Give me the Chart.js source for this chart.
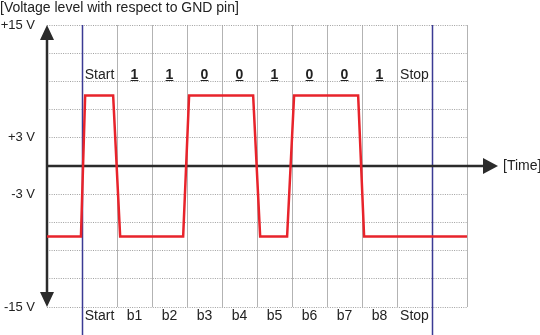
<!DOCTYPE html>
<html>
<head>
<meta charset="utf-8">
<script src="https://cdn.jsdelivr.net/npm/chart.js@4.4.1/dist/chart.umd.min.js"></script>
<style>
  html, body { margin: 0; padding: 0; background: #fff; }
  canvas { display: block; }
</style>
</head>
<body>
<canvas id="signalChart" width="540" height="335"></canvas>
<script>
// waveform: time in bit periods, level in volts
const signalTime  = [0, 0.97, 1.09, 1.89, 2.09, 3.89, 4.06, 5.89, 6.09, 6.86, 7.06, 8.89, 9.06, 12];
const signalVolts = [-7.5, -7.5, 7.5, 7.5, -7.5, -7.5, 7.5, 7.5, -7.5, -7.5, 7.5, 7.5, -7.5, -7.5];

// one label per bit column along the bottom (first and last column empty)
const slotLabels = ['', 'Start', 'b1', 'b2', 'b3', 'b4', 'b5', 'b6', 'b7', 'b8', 'Stop', ''];
// values written above the waveform, starting in column 1
const bitValues = ['Start', '1', '1', '0', '0', '1', '0', '0', '1', 'Stop'];
const bitLabelLevel = 9.25;

const yTickValues = [15, 3, -3, -15];
const yTickText = ['+15 V', '+3 V', '-3 V', '-15 V'];

// start of the start bit and end of the stop bit
const frameEdges = [1, 11];

const FONT = 'Liberation Sans, Arial, sans-serif';
const TEXT = '#222';
const AXIS = '#2b2b2b';

const axesPlugin = {
  id: 'axesArrows',
  beforeDatasetsDraw(chart) {
    const { ctx, chartArea, scales: { x, y } } = chart;
    const x0 = x.getPixelForValue(0);
    const y0 = y.getPixelForValue(0);
    ctx.save();

    // blue frame markers run down past the plot
    ctx.strokeStyle = '#3b3a94';
    ctx.lineWidth = 1.5;
    frameEdges.forEach(v => {
      const px = Math.round(x.getPixelForValue(v)) + 0.5;
      ctx.beginPath();
      ctx.moveTo(px, chartArea.top);
      ctx.lineTo(px, chart.height);
      ctx.stroke();
    });

    // axes
    ctx.strokeStyle = AXIS;
    ctx.fillStyle = AXIS;
    ctx.lineWidth = 2.5;
    const tipX = chartArea.right + 31;
    ctx.beginPath();
    ctx.moveTo(x0, chartArea.top + 10);
    ctx.lineTo(x0, chartArea.bottom - 10);
    ctx.moveTo(x0, y0);
    ctx.lineTo(tipX - 10, y0);
    ctx.stroke();

    // arrow heads
    ctx.beginPath();
    ctx.moveTo(x0, chartArea.top);
    ctx.lineTo(x0 - 7, chartArea.top + 15);
    ctx.lineTo(x0 + 7, chartArea.top + 15);
    ctx.closePath();
    ctx.moveTo(x0, chartArea.bottom);
    ctx.lineTo(x0 - 7, chartArea.bottom - 15);
    ctx.lineTo(x0 + 7, chartArea.bottom - 15);
    ctx.closePath();
    ctx.moveTo(tipX, y0);
    ctx.lineTo(tipX - 15, y0 - 8);
    ctx.lineTo(tipX - 15, y0 + 8);
    ctx.closePath();
    ctx.fill();

    ctx.font = '14px ' + FONT;
    ctx.fillStyle = TEXT;
    ctx.textAlign = 'left';
    ctx.textBaseline = 'middle';
    ctx.fillText('[Time]', tipX + 5, y0);
    ctx.restore();
  },
  afterDatasetsDraw(chart) {
    const { ctx, scales: { x, y } } = chart;
    const ly = y.getPixelForValue(bitLabelLevel);
    ctx.save();
    ctx.fillStyle = TEXT;
    ctx.strokeStyle = TEXT;
    ctx.textAlign = 'center';
    ctx.textBaseline = 'alphabetic';
    bitValues.forEach((txt, i) => {
      const cx = x.getPixelForValue(i + 1.5);
      const isBit = txt === '0' || txt === '1';
      ctx.font = (isBit ? 'bold ' : '') + '14px ' + FONT;
      ctx.fillText(txt, cx, ly);
      if (isBit) {
        const w = ctx.measureText(txt).width;
        ctx.lineWidth = 1;
        ctx.beginPath();
        ctx.moveTo(cx - w / 2, Math.round(ly) + 1.5);
        ctx.lineTo(cx + w / 2, Math.round(ly) + 1.5);
        ctx.stroke();
      }
    });
    ctx.restore();
  }
};

new Chart(document.getElementById('signalChart'), {
  type: 'line',
  data: {
    datasets: [{
      data: signalTime.map((t, i) => ({ x: t, y: signalVolts[i] })),
      xAxisID: 'x',
      yAxisID: 'y',
      borderColor: '#e8232b',
      borderWidth: 2.5,
      pointRadius: 0,
      tension: 0,
      fill: false
    }]
  },
  options: {
    responsive: false,
    animation: false,
    layout: { padding: { left: 0, right: 73, top: 0, bottom: 0 } },
    plugins: {
      legend: { display: false },
      tooltip: { enabled: false },
      title: {
        display: true,
        text: '[Voltage level with respect to GND pin]',
        align: 'start',
        color: TEXT,
        font: { family: FONT, size: 14, weight: 'normal' },
        padding: { top: 0, bottom: 8.2 }
      }
    },
    scales: {
      x: {
        type: 'linear',
        min: 0,
        max: 12,
        ticks: { display: false, stepSize: 1 },
        border: { display: false },
        grid: {
          drawTicks: false,
          lineWidth: 1,
          color: c => (c.tick.value === 0 || frameEdges.includes(c.tick.value)) ? 'rgba(0,0,0,0)' : '#b3b3b3'
        },
        afterFit: s => { s.height = 0; }
      },
      slots: {
        type: 'category',
        labels: slotLabels,
        position: 'bottom',
        offset: true,
        grid: { display: false, drawTicks: false },
        border: { display: false },
        ticks: { padding: 1, color: TEXT, font: { family: FONT, size: 14 }, autoSkip: false, maxRotation: 0 },
        afterFit: s => { s.height = 28; }
      },
      y: {
        min: -15,
        max: 15,
        ticks: {
          stepSize: 3,
          padding: 12,
          color: TEXT,
          font: { family: FONT, size: 13 },
          callback: v => {
            const i = yTickValues.indexOf(v);
            return i < 0 ? '' : yTickText[i];
          }
        },
        border: { display: false, dash: [1, 1.3] },
        grid: {
          drawTicks: false,
          lineWidth: 1,
          color: c => c.tick.value === 0 ? 'rgba(0,0,0,0)' : '#a0a0a0'
        },
        afterFit: s => { s.width = 47; }
      }
    }
  },
  plugins: [axesPlugin]
});
</script>
</body>
</html>
